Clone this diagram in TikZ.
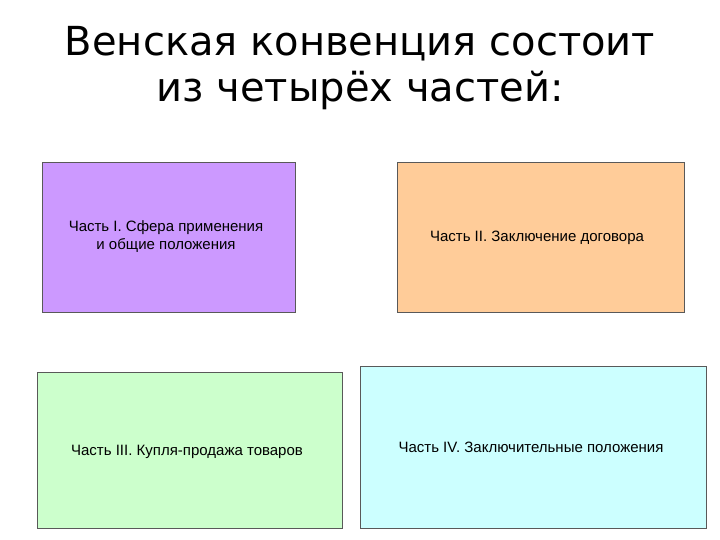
\documentclass[tikz,border=0pt]{standalone}
\usepackage{fontspec}
\setmainfont{Liberation Sans}
\newfontfamily\titlefont{DejaVu Sans}
\begin{document}
\begin{tikzpicture}[x=1pt,y=-1pt,
  box/.style={draw=gray!70!black,line width=0.6pt},
  lbl/.style={font=\fontsize{15}{18}\selectfont,align=center,inner sep=0}]
\useasboundingbox (0,0) rectangle (720,540);
\fill[white] (0,0) rectangle (720,540);
\node[font=\titlefont\fontsize{40}{46}\selectfont,align=center] (title) at (360,68) {Венская конвенция состоит\\из четырёх частей:};
\draw[box,fill={rgb,255:red,204;green,153;blue,255}] (42,162) rectangle (295,312);
\node[lbl] (a) at (166,237) {Часть I. Сфера применения\\и общие положения};
\draw[box,fill={rgb,255:red,255;green,204;blue,153}] (397,162) rectangle (684,312);
\node[lbl] (b) at (537,238) {Часть II. Заключение договора};
\draw[box,fill={rgb,255:red,204;green,255;blue,204}] (37,372) rectangle (342,528);
\node[lbl] (c) at (187,452) {Часть III. Купля-продажа товаров};
\draw[box,fill={rgb,255:red,204;green,255;blue,255}] (360,366) rectangle (706,528);
\node[lbl] (d) at (531,447) {Часть IV. Заключительные положения};
\end{tikzpicture}
\end{document}
